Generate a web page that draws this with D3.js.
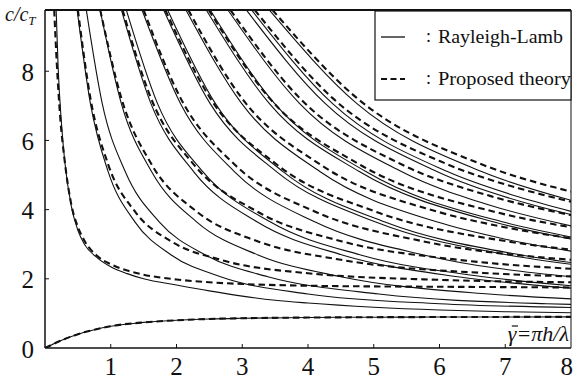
<!DOCTYPE html>
<html>
<head>
<meta charset="utf-8">
<script src="https://cdn.jsdelivr.net/npm/d3@7"></script>
<style>
  body { margin: 0; background: #fff; }
  svg { display: block; }
</style>
</head>
<body>
<div id="chart"></div>
<script>
// ── Data ────────────────────────────────────────────────────────────────────
const xTicks = [1, 2, 3, 4, 5, 6, 7, 8]
const yTicks = [0, 2, 4, 6, 8]

// lowest branch, both theories coincide
const modeA0 = [[0, 0], [0.1, 0.09], [0.2, 0.18], [0.3, 0.26], [0.5, 0.4], [0.75, 0.53], [1, 0.63], [1.5, 0.74],
  [2, 0.8], [2.5, 0.84], [3, 0.86], [4, 0.88], [5, 0.89], [6, 0.895], [8, 0.9]]

// Rayleigh-Lamb (solid)
const rlA1 = [[0.17, 9.75], [0.2, 8.1], [0.25, 6.5], [0.3, 5.4], [0.4, 4.1], [0.5, 3.4], [0.6, 3.0], [0.8, 2.6],
  [1, 2.35], [1.25, 2.15], [1.5, 2.0], [2, 1.82], [2.5, 1.65], [3, 1.5], [3.5, 1.38], [4, 1.3], [5, 1.18],
  [6, 1.1], [7, 1.05], [8, 1.02]]
const rlA2 = [[0.49, 9.75], [0.69, 7.07], [0.96, 5.1], [1.37, 3.64], [1.92, 2.69], [2.67, 2.06], [4, 1.56], [6, 1.28], [8, 1.17]]
const rlA3 = [[0.63, 9.75], [0.87, 7.07], [1.22, 5.1], [1.74, 3.64], [2.44, 2.69], [3.39, 2.06], [5.08, 1.56], [7.63, 1.28], [8, 1.26]]
const rlA4 = [[0.84, 9.75], [1.16, 7.07], [1.62, 5.1], [2.31, 3.64], [3.24, 2.69], [4.5, 2.06], [6.75, 1.56], [8, 1.42]]
const rlA5 = [[1.165, 9.75], [1.61, 7.07], [2.26, 5.1], [3.23, 3.64], [4.52, 2.69], [6.28, 2.06], [8, 1.73]]
const rlA6 = [[1.24, 9.75], [1.71, 7.07], [2.4, 5.1], [3.43, 3.64], [4.8, 2.69], [6.67, 2.06], [8, 1.8]]
const rlA7 = [[1.48, 9.75], [2.06, 7.07], [2.88, 5.1], [4.11, 3.64], [5.76, 2.69], [8, 2.06]]
const rlA8 = [[1.81, 9.75], [2.51, 7.07], [3.52, 5.1], [5.03, 3.64], [7.04, 2.69], [8, 2.42]]
const rlA9 = [[1.87, 9.75], [2.59, 7.07], [3.62, 5.1], [5.17, 3.64], [7.24, 2.69], [8, 2.47]]
const rlA10 = [[2.15, 9.75], [2.99, 7.07], [4.18, 5.1], [5.97, 3.64], [6.97, 3.16], [8, 2.8]]
const rlA11 = [[2.46, 9.75], [3.41, 7.07], [4.78, 5.1], [6.83, 3.64], [8, 3.15]]
const rlA12 = [[2.52, 9.75], [3.49, 7.07], [4.88, 5.1], [6.97, 3.64], [8, 3.21]]
const rlA13 = [[2.79, 9.75], [3.87, 7.07], [5.42, 5.1], [6.78, 4.12], [8, 3.53]]
const rlA14 = [[3.07, 9.75], [4.26, 7.07], [5.96, 5.1], [7.45, 4.12], [8, 3.86]]
const rlA15 = [[3.15, 9.75], [4.37, 7.07], [6.12, 5.1], [7.2, 4.37], [8, 3.95]]
const rlA16 = [[3.42, 9.75], [4.74, 7.07], [6.64, 5.1], [8, 4.27]]

// Proposed theory (dashed)
const ptA1 = [[0.14, 9.77], [0.18, 8.2], [0.23, 6.7], [0.3, 5.4], [0.4, 4.15], [0.5, 3.5], [0.6, 3.1], [0.8, 2.65],
  [1, 2.42], [1.25, 2.24], [1.5, 2.12], [2, 1.98], [2.5, 1.9], [3, 1.85], [4, 1.8], [5, 1.78], [6, 1.77], [8, 1.75]]
const ptA2 = [[0.5, 9.77], [0.69, 7.23], [0.96, 5.31], [1.37, 3.94], [1.92, 3.08], [2.67, 2.55], [4, 2.16], [6, 1.97], [8, 1.9]]
const ptA4 = [[0.84, 9.77], [1.16, 7.23], [1.62, 5.31], [2.31, 3.94], [3.24, 3.08], [4.5, 2.55], [6.75, 2.16], [8, 2.07]]
const ptA5 = [[1.18, 9.77], [1.61, 7.23], [2.26, 5.31], [3.23, 3.94], [4.52, 3.08], [6.28, 2.55], [8, 2.29]]
const ptA7 = [[1.5, 9.77], [2.06, 7.23], [2.88, 5.31], [4.11, 3.94], [5.76, 3.08], [8, 2.55]]
const ptA8 = [[1.83, 9.77], [2.51, 7.23], [3.52, 5.31], [5.03, 3.94], [7.04, 3.08], [8, 2.84]]
const ptA10 = [[2.18, 9.77], [2.99, 7.23], [4.18, 5.31], [5.97, 3.94], [6.97, 3.5], [8, 3.17]]
const ptA11 = [[2.49, 9.77], [3.41, 7.23], [4.78, 5.31], [6.83, 3.94], [8, 3.49]]
const ptA13 = [[2.82, 9.77], [3.87, 7.23], [5.42, 5.31], [6.78, 4.39], [8, 3.84]]
const ptA15 = [[3.19, 9.77], [4.37, 7.23], [6.12, 5.31], [7.2, 4.62], [8, 4.23]]
const ptA16 = [[3.46, 9.77], [4.74, 7.23], [6.64, 5.31], [8, 4.52]]

const solidCurves = [modeA0, rlA1, rlA2, rlA3, rlA4, rlA5, rlA6, rlA7, rlA8, rlA9, rlA10, rlA11, rlA12, rlA13, rlA14, rlA15, rlA16]
const dashedCurves = [modeA0, ptA1, ptA2, ptA4, ptA5, ptA7, ptA8, ptA10, ptA11, ptA13, ptA15, ptA16]

// ── Layout ──────────────────────────────────────────────────────────────────
const W = 574, H = 383
const PLOT = { left: 45, right: 571, top: 10, bottom: 348 }
const INK = '#111'
const SERIF = '"Liberation Serif", "Times New Roman", serif'

const x = d3.scaleLinear().domain([0, 8]).range([PLOT.left, PLOT.right])
const y = d3.scaleLinear().domain([0, 9.77]).range([PLOT.bottom, PLOT.top])

const svg = d3.select('#chart').append('svg').attr('width', W).attr('height', H)

svg.append('clipPath').attr('id', 'plotclip')
  .append('rect')
  .attr('x', PLOT.left).attr('y', PLOT.top)
  .attr('width', PLOT.right - PLOT.left).attr('height', PLOT.bottom - PLOT.top)

// ── Curves ──────────────────────────────────────────────────────────────────
const line = d3.line().x(d => x(d[0])).y(d => y(d[1])).curve(d3.curveMonotoneX)
const g = svg.append('g').attr('clip-path', 'url(#plotclip)')

g.selectAll('.rl').data(solidCurves).join('path')
  .attr('class', 'rl')
  .attr('d', line)
  .attr('fill', 'none')
  .attr('stroke', INK)
  .attr('stroke-width', 1.1)

g.selectAll('.pt').data(dashedCurves).join('path')
  .attr('class', 'pt')
  .attr('d', line)
  .attr('fill', 'none')
  .attr('stroke', INK)
  .attr('stroke-width', 2.1)
  .attr('stroke-dasharray', '6.5,4')

// ── Frame + ticks ───────────────────────────────────────────────────────────
svg.append('line').attr('x1', PLOT.left).attr('x2', PLOT.right).attr('y1', PLOT.top).attr('y2', PLOT.top)
  .attr('stroke', INK).attr('stroke-width', 2)
svg.append('line').attr('x1', PLOT.left).attr('x2', PLOT.left).attr('y1', PLOT.top).attr('y2', PLOT.bottom)
  .attr('stroke', INK).attr('stroke-width', 1.5)
svg.append('line').attr('x1', PLOT.left).attr('x2', PLOT.right).attr('y1', PLOT.bottom).attr('y2', PLOT.bottom)
  .attr('stroke', INK).attr('stroke-width', 1.5)
svg.append('line').attr('x1', PLOT.right).attr('x2', PLOT.right).attr('y1', PLOT.top).attr('y2', PLOT.bottom)
  .attr('stroke', INK).attr('stroke-width', 1)

svg.selectAll('.xtick').data(xTicks.filter(t => t < 8)).join('line')
  .attr('x1', d => x(d)).attr('x2', d => x(d))
  .attr('y1', PLOT.bottom).attr('y2', PLOT.bottom - 4)
  .attr('stroke', INK).attr('stroke-width', 1)

svg.selectAll('.ytick').data(yTicks.filter(t => t > 0)).join('line')
  .attr('x1', PLOT.left).attr('x2', PLOT.left + 4)
  .attr('y1', d => y(d)).attr('y2', d => y(d))
  .attr('stroke', INK).attr('stroke-width', 1)

// last label sits against the window edge, so it is right-aligned there
svg.selectAll('.xlab').data(xTicks).join('text')
  .attr('x', d => d === 8 ? W - 1 : x(d)).attr('y', 375)
  .attr('text-anchor', d => d === 8 ? 'end' : 'middle')
  .attr('font-family', SERIF).attr('font-size', 25).attr('fill', INK)
  .text(d => d)

svg.selectAll('.ylab').data(yTicks).join('text')
  .attr('x', 34).attr('y', d => y(d) + 9.5)
  .attr('text-anchor', 'end')
  .attr('font-family', SERIF).attr('font-size', 25).attr('fill', INK)
  .text(d => d)

// axis titles
const yTitle = svg.append('text').attr('x', 5).attr('y', 21)
  .attr('font-family', SERIF).attr('font-size', 20).attr('font-style', 'italic').attr('fill', INK)
yTitle.append('tspan').text('c/c')
yTitle.append('tspan').attr('font-size', 13).attr('dy', 4).text('T')

const xTitle = svg.append('text').attr('x', 569).attr('y', 341)
  .attr('text-anchor', 'end')
  .attr('font-family', SERIF).attr('font-size', 22).attr('font-style', 'italic').attr('fill', INK)
  .text('\u03b3=\u03c0h/\u03bb')
// bar over gamma (shifted right for the italic slant)
const gb = xTitle.node().getExtentOfChar(0)
svg.append('line')
  .attr('x1', gb.x + 4).attr('x2', gb.x + gb.width + 1.5)
  .attr('y1', gb.y + 5).attr('y2', gb.y + 5)
  .attr('stroke', INK).attr('stroke-width', 1.2)

// ── Legend ──────────────────────────────────────────────────────────────────
const legend = svg.append('g')
legend.append('rect').attr('x', 375).attr('y', 11).attr('width', 196).attr('height', 89)
  .attr('fill', '#fff').attr('stroke', INK).attr('stroke-width', 1.2)

const items = [
  { label: 'Rayleigh-Lamb', dash: null, width: 1.3, cy: 37, len: 125 },
  { label: 'Proposed theory', dash: '6,3.5', width: 2, cy: 79, len: 133 },
]
items.forEach(it => {
  legend.append('line').attr('x1', 381).attr('x2', 405).attr('y1', it.cy).attr('y2', it.cy)
    .attr('stroke', INK).attr('stroke-width', it.width).attr('stroke-dasharray', it.dash)
  legend.append('text').attr('x', 426).attr('y', it.cy + 5)
    .attr('font-family', SERIF).attr('font-size', 18).attr('fill', INK).text(':')
  legend.append('text').attr('x', 438).attr('y', it.cy + 5.5)
    .attr('font-family', SERIF).attr('font-size', 18).attr('fill', INK)
    .attr('textLength', it.len).attr('lengthAdjust', 'spacingAndGlyphs')
    .text(it.label)
})
</script>
</body>
</html>
